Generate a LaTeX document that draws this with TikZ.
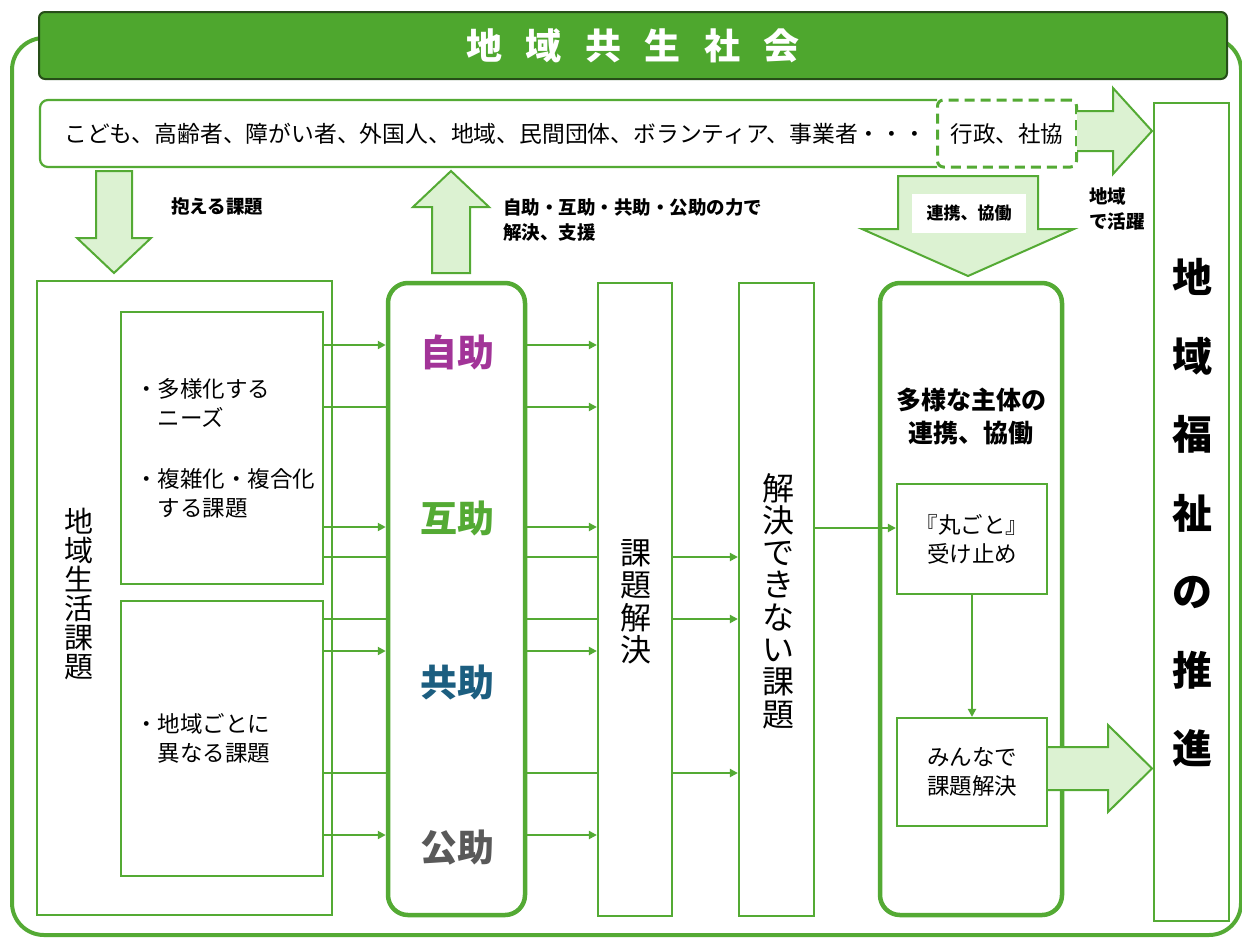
\documentclass[tikz,border=0pt]{standalone}
\usepackage{fontspec}
\setmainfont{Noto Sans CJK JP}
\usetikzlibrary{arrows.meta}
\definecolor{gr}{RGB}{84,170,52}
\definecolor{lgr}{RGB}{220,242,210}
\definecolor{hdr}{RGB}{78,167,46}
\definecolor{hdrb}{RGB}{38,78,24}
\definecolor{jpur}{RGB}{162,52,152}
\definecolor{jteal}{RGB}{28,94,128}
\definecolor{jgray}{RGB}{89,89,89}
\newcommand\mytight{\lineskiplimit=-50pt\relax}
\begin{document}
\begin{tikzpicture}[x=1pt,y=-1pt,
  tbox/.style={draw=gr,line width=2.2pt,fill=white,inner sep=0pt},
  rbox/.style={draw=gr,line width=4.5pt,fill=white,rounded corners=20pt,inner sep=0pt},
  conn/.style={draw=gr,line width=2.8pt},
  arr/.style={conn,-{Triangle[length=8pt,width=8pt]}},
  blk/.style={draw=gr,line width=2pt,fill=lgr,line join=miter},
  lbl/.style={font=\bfseries\fontsize{18.5}{25}\selectfont,align=left,inner sep=0pt},
  body/.style={font=\fontsize{22.5}{29}\selectfont,align=left,inner sep=0pt},
  vert/.style={align=center,inner sep=0pt},
  help/.style={font=\bfseries\fontsize{37}{40}\selectfont,inner sep=0pt},
]
\useasboundingbox (0,0) rectangle (1242,938);
\fill[white] (0,0) rectangle (1242,938);
% outer frame
\draw[draw=gr,line width=4pt,rounded corners=32pt] (12,38) rectangle (1241,935);
% header
\node[draw=hdrb,fill=hdr,line width=2pt,rounded corners=6pt,minimum width=1188pt,minimum height=67pt,inner sep=0pt,text=white,font=\bfseries\fontsize{36}{40}\selectfont] (title) at (633,45.5) {地\hspace{23.5pt}域\hspace{23.5pt}共\hspace{23.5pt}生\hspace{23.5pt}社\hspace{23.5pt}会};
% top row
\node[fill=white,outer sep=0pt,inner sep=0pt,minimum width=897pt,minimum height=67pt] (people) at (488.5,133.5) {};
\draw[draw=gr,line width=2.2pt,rounded corners=8pt] (people.north east) -- (people.north west) -- (people.south west) -- (people.south east);
\node[body,font=\fontsize{22.8}{29}\selectfont,anchor=west] (peopletxt) at (64,134) {こども、高齢者、障がい者、外国人、地域、民間団体、ボランティア、事業者・・・};
\node[body,draw=gr,line width=3pt,dash pattern=on 10pt off 6pt,rounded corners=6pt,fill=white,minimum width=139pt,minimum height=67pt] (gov) at (1007,133.5) {行政、社協};
\draw[blk] (1077,111) -- (1113,111) -- (1113,88) -- (1152,131) -- (1113,174) -- (1113,151) -- (1077,151);
\node[lbl,anchor=west] (katsuyaku) at (1089,209) {地域\\で活躍};
% left down arrow
\draw[blk] (96,171) -- (132,171) -- (132,238) -- (151,238) -- (114,273) -- (77,238) -- (96,238) -- cycle;
\node[lbl,anchor=west] (kakaeru) at (171,206) {抱える課題};
% up arrow
\draw[blk] (432,273) -- (432,207) -- (413,207) -- (451,171) -- (489,207) -- (470,207) -- (470,273) -- cycle;
\node[lbl,anchor=west] (chikara) at (503,219.5) {自助・互助・共助・公助の力で\\解決、支援};
% renkei arrow
\draw[blk] (898,176) -- (1038,176) -- (1038,229) -- (1074,229) -- (968,276) -- (862,229) -- (898,229) -- cycle;
\node[fill=white,minimum width=114pt,minimum height=39pt,inner sep=0pt,font=\bfseries\fontsize{17}{20}\selectfont] (renkeilbl) at (969,213.5) {連携、協働};
% left boxes
\node[tbox,minimum width=295pt,minimum height=634pt] (seikatsu) at (184.5,598) {};
\node[vert,font={\fontsize{29}{29}\selectfont\mytight}] (seikatsutxt) at (79,594) {地\\域\\生\\活\\課\\題};
\node[tbox,minimum width=202pt,minimum height=272pt] (inner1) at (222,448) {};
\node[tbox,minimum width=202pt,minimum height=275pt] (inner2) at (222,738.5) {};
\node[body,anchor=west] (inner1txt) at (135,448.5) {・多様化する\\　ニーズ\\[32pt]・複雑化・複合化\\　する課題};
\node[body,anchor=west] (inner2txt) at (135,738.5) {・地域ごとに\\　異なる課題};
% help box
\node[rbox,minimum width=137pt,minimum height=632pt] (helpbox) at (456.5,599) {};
\node[help,text=jpur] (tjijo) at (457,352) {自助};
\node[help,text=gr] (tgojo) at (457,518) {互助};
\node[help,text=jteal] (tkyojo) at (457,682) {共助};
\node[help,text=jgray] (tkojo) at (457,848) {公助};
% kadai kaiketsu
\node[tbox,minimum width=74pt,minimum height=633pt] (kadai) at (635,599.5) {};
\node[vert,font={\fontsize{31}{32.5}\selectfont\mytight}] (kadaitxt) at (636,602) {課\\題\\解\\決};
\node[tbox,minimum width=75pt,minimum height=633pt] (dekinai) at (776.5,599.5) {};
\node[vert,font={\fontsize{32}{32.3}\selectfont\mytight}] (dekinaitxt) at (778,601) {解\\決\\で\\き\\な\\い\\課\\題};
% tayo box
\node[rbox,minimum width=182pt,minimum height=632pt] (tayo) at (971,599) {};
\node[vert,font=\bfseries\fontsize{25}{33}\selectfont] (tayotxt) at (971,416.5) {多様な主体の\\連携、協働};
\node[tbox,minimum width=150pt,minimum height=110pt,body,align=center] (marugoto) at (972,539) {『丸ごと』\\受け止め};
\node[tbox,minimum width=150pt,minimum height=108pt,body,align=center] (minna) at (972,772) {みんなで\\課題解決};
% chiiki fukushi
\node[tbox,minimum width=75pt,minimum height=818pt] (fukushi) at (1191.5,512) {};
\node[vert,font={\bfseries\fontsize{40}{78.5}\selectfont\mytight}] (fukushitxt) at (1192,513) {地\\域\\福\\祉\\の\\推\\進};
% level coordinates
\coordinate (l345) at (0,345);
\coordinate (l407) at (0,407);
\coordinate (l527) at (0,527);
\coordinate (l557) at (0,557);
\coordinate (l619) at (0,619);
\coordinate (l651) at (0,651);
\coordinate (l773) at (0,773);
\coordinate (l835) at (0,835);
\coordinate (l528) at (0,528);
\coordinate (l747) at (0,747);
\coordinate (l790) at (0,790);
% left connectors
\draw[arr] (inner1.east |- l345) -- (helpbox.west |- l345);
\draw[conn] (inner1.east |- l407) -- (helpbox.west |- l407);
\draw[arr] (inner1.east |- l527) -- (helpbox.west |- l527);
\draw[conn] (inner1.east |- l557) -- (helpbox.west |- l557);
\draw[conn] (inner2.east |- l619) -- (helpbox.west |- l619);
\draw[arr] (inner2.east |- l651) -- (helpbox.west |- l651);
\draw[conn] (inner2.east |- l773) -- (helpbox.west |- l773);
\draw[arr] (inner2.east |- l835) -- (helpbox.west |- l835);
% middle connectors
\draw[arr] (helpbox.east |- l345) -- (kadai.west |- l345);
\draw[arr] (helpbox.east |- l407) -- (kadai.west |- l407);
\draw[arr] (helpbox.east |- l527) -- (kadai.west |- l527);
\draw[conn] (helpbox.east |- l557) -- (kadai.west |- l557);
\draw[conn] (helpbox.east |- l619) -- (kadai.west |- l619);
\draw[arr] (helpbox.east |- l651) -- (kadai.west |- l651);
\draw[conn] (helpbox.east |- l773) -- (kadai.west |- l773);
\draw[arr] (helpbox.east |- l835) -- (kadai.west |- l835);
% kadai to dekinai
\draw[arr] (kadai.east |- l557) -- (dekinai.west |- l557);
\draw[arr] (kadai.east |- l619) -- (dekinai.west |- l619);
\draw[arr] (kadai.east |- l773) -- (dekinai.west |- l773);
% dekinai to marugoto
\draw[arr] (dekinai.east |- l528) -- (marugoto.west |- l528);
\draw[arr] (marugoto.south) -- (minna.north);
% bottom right block arrow
\draw[blk] (minna.east |- l747) -- (1108,747) -- (1108,725) -- (1152,768.5) -- (1108,812) -- (1108,790) -- (minna.east |- l790);
\end{tikzpicture}
\end{document}
